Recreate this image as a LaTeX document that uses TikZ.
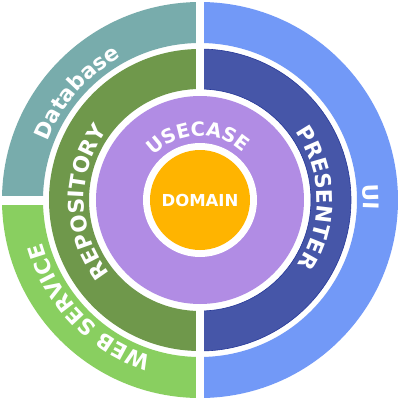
\documentclass[tikz,border=0pt]{standalone}
\usepackage{fontspec}
\setmainfont{DejaVu Sans}
\usetikzlibrary{decorations.text}
\definecolor{dbteal}{RGB}{120,172,172}
\definecolor{webgreen}{RGB}{137,207,96}
\definecolor{repogreen}{RGB}{111,152,75}
\definecolor{uiblue}{RGB}{114,153,247}
\definecolor{presblue}{RGB}{70,86,168}
\definecolor{presedge}{RGB}{38,56,152}
\definecolor{usepurple}{RGB}{177,140,228}
\definecolor{domorange}{RGB}{255,180,0}
\newcommand\annsec[5]{% fill options, r_in, r_out, a1, a2
  \path[#1] (#4:#3) arc[start angle=#4, end angle=#5, radius=#3]
    -- (#5:#2) arc[start angle=#5, end angle=#4, radius=#2] -- cycle;}
\tikzset{
  ringtext/.style={decorate, decoration={text along path, text align=center, text color=white,
     text={|\bfseries\fontsize{21.5}{25}\selectfont|#1}}},
  usetext/.style={decorate, decoration={text along path, text align=center, text color=white,
     text={|\bfseries\fontsize{19.5}{23}\selectfont|#1}}},
  domainlabel/.style={text=white, font=\bfseries\fontsize{16.5}{19}\selectfont, inner sep=0pt}
}
\begin{document}
\begin{tikzpicture}
\fill[white] (-200pt,-200pt) rectangle (200pt,200pt);
\useasboundingbox (-200pt,-200pt) rectangle (200pt,200pt);
% outer ring
\annsec{fill=uiblue}{157pt}{198pt}{90}{-90}
\annsec{fill=dbteal}{157pt}{198pt}{90}{180}
\annsec{fill=webgreen}{157pt}{198pt}{180}{270}
% second ring
\annsec{fill=repogreen}{111pt}{151pt}{90}{270}
\annsec{fill=presblue, draw=presedge, line width=0.6pt}{111pt}{151pt}{-90}{90}
% white separators
\fill[white] (-4pt,-201pt) rectangle (4pt,201pt);
\fill[white] (-201pt,-4.5pt) rectangle (-153pt,4.5pt);
% usecase disc and domain
\fill[usepurple] (0,0) circle[radius=104pt];
\fill[white] (0,0) circle[radius=57pt];
\fill[domorange] (0,0) circle[radius=50pt];
\node[domainlabel] (domain) at (0,0) {DOMAIN};
% curved labels
\path[usetext=USECASE] (152:64pt) arc[start angle=152, end angle=32, radius=64pt];
\path[ringtext=PRESENTER] (70:117pt) arc[start angle=70, end angle=-68, radius=117pt];
\path[ringtext=REPOSITORY] (251:116pt) arc[start angle=251, end angle=111, radius=116pt];
\path[ringtext=UI] (41:163pt) arc[start angle=41, end angle=-39, radius=163pt];
\path[ringtext=Database] (189:163pt) arc[start angle=189, end angle=89, radius=163pt];
\path[ringtext={WEB SERVICE}] (274:163pt) arc[start angle=274, end angle=174, radius=163pt];
\end{tikzpicture}
\end{document}
